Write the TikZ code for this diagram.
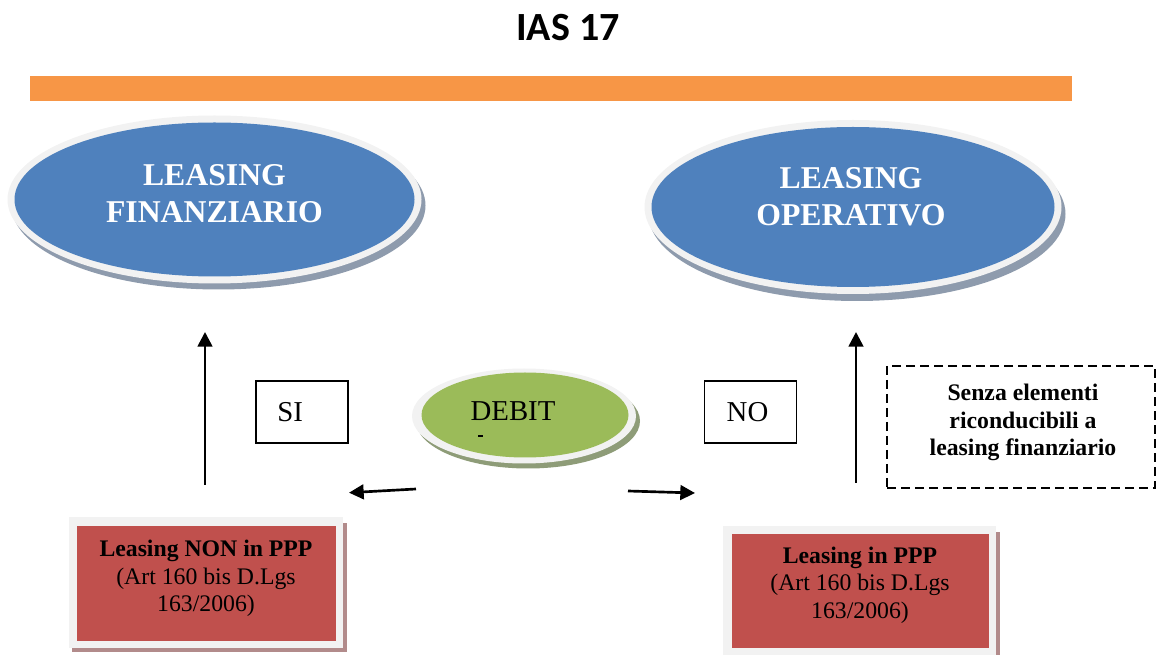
\documentclass[tikz,border=0pt]{standalone}
\usepackage{fontspec}
\setmainfont{Liberation Serif}
\newfontfamily\titlefont{Carlito}
\usetikzlibrary{shapes.geometric,arrows.meta}
\definecolor{barorange}{HTML}{F79646}
\definecolor{ovalblue}{HTML}{4F81BD}
\definecolor{ovalgreen}{HTML}{9BBB59}
\definecolor{boxred}{HTML}{C0504D}
\definecolor{ringgrey}{HTML}{F2F2F2}
\definecolor{blueshadow}{HTML}{8E9BAD}
\definecolor{greenshadow}{HTML}{8E9C78}
\definecolor{redshadow}{HTML}{B28B8B}
\tikzset{
  oval/.style={ellipse, inner sep=0pt},
  ovaltext/.style={text=white, align=center, font=\bfseries\fontsize{23.8}{27.75}\selectfont, inner sep=0pt},
  boxtext/.style={align=center, font=\fontsize{17.8}{20.6}\selectfont, inner sep=0pt},
  notetext/.style={align=center, font=\bfseries\fontsize{17.8}{20.6}\selectfont, inner sep=0pt},
  labeltext/.style={font=\fontsize{21.6}{26}\selectfont, inner sep=0pt},
  labelbox/.style={draw, line width=1pt, inner sep=0pt, minimum width=69pt, minimum height=46.5pt},
  arrowline/.style={line width=2pt, -{Triangle[length=11pt,width=11pt]}},
}
\begin{document}
\begin{tikzpicture}[x=0.75pt,y=-0.75pt]
\useasboundingbox (0,0) rectangle (1157,655);
\clip (0,0) rectangle (1157,655);

% title and bar
\node[font=\titlefont\bfseries\fontsize{30}{36}\selectfont, inner sep=0pt] (title) at (568,28) {IAS 17};
\node[fill=barorange, inner sep=0pt, minimum width=781.5pt, minimum height=18.75pt] (bar) at (551,88.5) {};

% left oval
\node[oval, fill=blueshadow, minimum width=310.5pt, minimum height=126pt] (finshadow) at (218.5,205.5) {};
\node[oval, fill=ringgrey, minimum width=310.5pt, minimum height=126pt] (finring) at (214.5,199.5) {};
\node[oval, fill=ovalblue, minimum width=300pt, minimum height=115.5pt] (fin) at (214.5,199.5) {};
\node[ovaltext] (fintext) at (214.5,194) {LEASING\\FINANZIARIO};

% right oval
\node[oval, fill=blueshadow, minimum width=312.75pt, minimum height=130.5pt] (opshadow) at (857,214) {};
\node[oval, fill=ringgrey, minimum width=312.75pt, minimum height=130.5pt] (opring) at (853,207) {};
\node[oval, fill=ovalblue, minimum width=302.25pt, minimum height=120pt] (op) at (853,207) {};
\node[ovaltext] (optext) at (851,196.5) {LEASING\\OPERATIVO};

% debit oval
\node[oval, fill=greenshadow, minimum width=168pt, minimum height=71.25pt] (debshadow) at (528,421) {};
\node[oval, fill=ringgrey, minimum width=168pt, minimum height=71.25pt] (debring) at (524,416) {};
\node[oval, fill=ovalgreen, minimum width=155.25pt, minimum height=63.75pt] (deb) at (525,415) {};
\node[labeltext] (debtext) at (513,411.5) {DEBIT};
\fill (478,435) rectangle (483,437);

% SI / NO boxes
\node[labelbox] (sibox) at (302,412) {};
\node[labeltext, anchor=west] (sitext) at (277,412) {SI};
\node[labelbox] (nobox) at (750.5,412) {};
\node[labeltext] (notext) at (747.5,412) {NO};

% dashed note
\node[draw, line width=1.5pt, dash pattern=on 6.75pt off 3.75pt, inner sep=0pt, minimum width=201pt, minimum height=91.5pt] (notebox) at (1021,427) {};
\node[notetext] (note) at (1023,422.5) {Senza elementi\\riconducibili a\\leasing finanziario};

% left red box
\fill[redshadow] (72,523) rectangle (347,652);
\fill[ringgrey] (69,517) rectangle (343,648);
\node[fill=boxred, inner sep=0pt, minimum width=194.25pt, minimum height=86.25pt] (nonppp) at (206.5,583.5) {};
\node[boxtext] (nontext) at (206,578.5) {\textbf{Leasing NON in PPP}\\(Art 160 bis D.Lgs\\163/2006)};

% right red box
\fill[redshadow] (729,532) rectangle (1000,660);
\fill[ringgrey] (723,526) rectangle (996,660);
\node[fill=boxred, inner sep=0pt, minimum width=192.75pt, minimum height=85.5pt] (ppp) at (860.5,591) {};
\node[boxtext] (ppptext) at (860,585) {\textbf{Leasing in PPP}\\(Art 160 bis D.Lgs\\163/2006)};

% arrows
\coordinate (la0) at (205,485);
\coordinate (la1) at (205,332);
\coordinate (ra0) at (856,483);
\coordinate (ra1) at (856,332);
\coordinate (ha0) at (416,489);
\coordinate (ha1) at (349,492.7);
\coordinate (hb0) at (628,491);
\coordinate (hb1) at (695,493);
\draw[arrowline] (la0) -- (la1);
\draw[arrowline] (ra0) -- (ra1);
\draw[arrowline] (ha0) -- (ha1);
\draw[arrowline] (hb0) -- (hb1);
\end{tikzpicture}
\end{document}
